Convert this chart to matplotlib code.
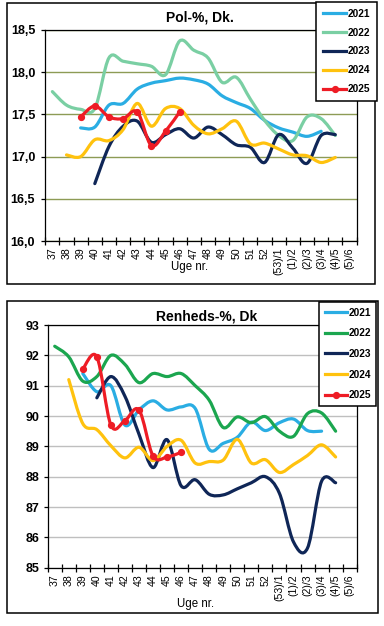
import numpy as np
import matplotlib
matplotlib.use("Agg")
import matplotlib.pyplot as plt
from matplotlib.path import Path
from matplotlib.patches import PathPatch, Rectangle
from matplotlib.lines import Line2D
from matplotlib.ticker import FuncFormatter

plt.rcParams['font.family'] = ['Liberation Sans', 'DejaVu Sans']

nan = np.nan

# ──────────────────────────────────────────────
# Data
# ──────────────────────────────────────────────
uger = ["37", "38", "39", "40", "41", "42", "43", "44", "45", "46", "47",
        "48", "49", "50", "51", "52", "(53)/1", "(1)/2", "(2)/3", "(3)/4",
        "(4)/5", "(5)/6"]
aar = ["2021", "2022", "2023", "2024", "2025"]

pol_2021 = [nan, nan, 17.34, 17.35, 17.61, 17.63, 17.80, 17.87, 17.90, 17.93, 17.91,
            17.86, 17.72, 17.64, 17.57, 17.43, 17.34, 17.29, 17.24, 17.30, nan, nan]
pol_2022 = [17.77, 17.61, 17.56, 17.57, 18.17, 18.13, 18.10, 18.07, 17.97, 18.37, 18.26,
            18.17, 17.88, 17.94, 17.68, 17.43, 17.25, 17.19, 17.47, 17.45, 17.25, nan]
pol_2023 = [nan, nan, nan, 16.68, 17.12, 17.36, 17.42, 17.17, 17.26, 17.33, 17.22,
            17.35, 17.26, 17.14, 17.11, 16.93, 17.26, 17.10, 16.92, 17.25, 17.26, nan]
pol_2024 = [nan, 17.02, 17.00, 17.20, 17.19, 17.32, 17.63, 17.36, 17.57, 17.57, 17.37,
            17.27, 17.33, 17.42, 17.15, 17.16, 17.09, 17.02, 17.01, 16.93, 16.99, nan]
pol_2025 = [nan, nan, 17.47, 17.60, 17.47, 17.45, 17.53, 17.13, 17.30, 17.53, nan,
            nan, nan, nan, nan, nan, nan, nan, nan, nan, nan, nan]

ren_2021 = [nan, nan, 91.40, 90.80, 91.00, 89.70, 90.20, 90.50, 90.20, 90.30, 90.25,
            88.90, 89.10, 89.30, 89.80, 89.52, 89.78, 89.90, 89.52, 89.50, nan, nan]
ren_2022 = [92.30, 91.95, 91.15, 91.30, 92.00, 91.70, 91.10, 91.40, 91.30, 91.40, 91.00,
            90.52, 89.62, 89.97, 89.78, 89.98, 89.50, 89.33, 90.08, 90.10, 89.50, nan]
ren_2023 = [nan, nan, nan, 90.60, 91.30, 90.65, 89.40, 88.30, 89.22, 87.70, 87.90,
            87.42, 87.40, 87.60, 87.80, 88.00, 87.45, 85.85, 85.65, 87.85, 87.80, nan]
ren_2024 = [nan, 91.20, 89.75, 89.55, 89.02, 88.62, 88.97, 88.53, 89.00, 89.20, 88.45,
            88.50, 88.55, 89.23, 88.45, 88.56, 88.14, 88.40, 88.70, 89.05, 88.65, nan]
ren_2025 = [nan, nan, 91.55, 91.95, 89.70, 89.85, 90.20, 88.68, 88.65, 88.80, nan,
            nan, nan, nan, nan, nan, nan, nan, nan, nan, nan, nan]

farver_pol = ["#2AADE3", "#7ACFA3", "#0F2657", "#FFC20E", "#EE1C25"]
farver_ren = ["#2AADE3", "#1BA64F", "#0F2657", "#FFC20E", "#EE1C25"]


# ──────────────────────────────────────────────
# Hjælpefunktioner
# ──────────────────────────────────────────────
def glat_kurve(x, y):
    """Excel-agtig udglattet linje (Bezier gennem punkterne)."""
    p = np.column_stack([x, y])
    n = len(p)
    verts = [p[0]]
    codes = [Path.MOVETO]
    for i in range(n - 1):
        p0 = p[max(i - 1, 0)]
        p1 = p[i]
        p2 = p[i + 1]
        p3 = p[min(i + 2, n - 1)]
        verts += [p1 + (p2 - p0) / 6, p2 - (p3 - p1) / 6, p2]
        codes += [Path.CURVE4] * 3
    return Path(verts, codes)


def tegn_diagram(ax, serier, farver, ylim, ystep, grid_farve, titel_pos, titel,
                 label_pos, ypad, leg_anchor, leg_kw):
    x_all = np.arange(len(uger))
    for k, (vals, c) in enumerate(zip(serier, farver)):
        v = np.array(vals, dtype=float)
        ok = ~np.isnan(v)
        xs, ys = x_all[ok], v[ok]
        ax.add_patch(PathPatch(glat_kurve(xs, ys), fill=False, edgecolor=c,
                               lw=2.3, capstyle="round", joinstyle="round",
                               zorder=3 + k))
        if k == len(serier) - 1:
            ax.plot(xs, ys, "o", color=c, ms=4.2, zorder=10)

    ax.set_xlim(-0.5, len(uger) - 0.5)
    ax.set_ylim(*ylim)
    ax.set_yticks(np.arange(ylim[0], ylim[1] + ystep / 2, ystep))
    ax.yaxis.set_major_formatter(FuncFormatter(
        lambda v, p: (f"{v:.1f}".replace(".", ",") if ystep < 1 else f"{v:.0f}")))
    ax.grid(True, axis="y", color=grid_farve, lw=1.0, zorder=0)
    ax.set_axisbelow(True)

    ax.set_xticks(np.arange(-0.5, len(uger)), labels=[""] * (len(uger) + 1))
    ax.set_xticks(x_all, labels=uger, minor=True)
    ax.tick_params(axis="x", which="major", direction="inout", length=5.5, width=0.9)
    ax.tick_params(axis="x", which="minor", length=0, pad=4.5, labelsize=7.6,
                   labelrotation=90)
    ax.tick_params(axis="y", direction="out", length=3, width=0.9, pad=ypad,
                   labelsize=9)
    for t in ax.get_yticklabels():
        t.set_fontweight("bold")
    for s in ax.spines.values():
        s.set_linewidth(0.9)
        s.set_color("black")

    ax.set_xlabel("Uge nr.", fontsize=8.3)
    ax.xaxis.set_label_coords(*label_pos)

    fig.text(titel_pos[0], titel_pos[1], titel, ha="center", va="center",
             fontsize=10, fontweight="bold")

    handles = [Line2D([], [], color=c, lw=2.3) for c in farver[:-1]]
    handles.append(Line2D([], [], color=farver[-1], lw=2.3, marker="o", ms=4.2))
    leg = fig.legend(handles, aar, loc="upper left", bbox_to_anchor=leg_anchor,
                     bbox_transform=fig.transFigure, borderaxespad=0,
                     fancybox=False, framealpha=1, edgecolor="black",
                     prop={"weight": "bold", "size": 7.3}, handletextpad=0.1,
                     **leg_kw)
    leg.get_frame().set_linewidth(1.1)
    return leg


# ──────────────────────────────────────────────
# Figur
# ──────────────────────────────────────────────
W, H = 384, 626
fig = plt.figure(figsize=(W / 100, H / 100), dpi=100)

# ydre rammer
for (x0, y0, x1, y1) in [(7, 3, 375, 284), (7, 301, 378, 613)]:
    fig.patches.append(Rectangle((x0 / W, 1 - y1 / H), (x1 - x0) / W, (y1 - y0) / H,
                                 transform=fig.transFigure, fill=False,
                                 edgecolor="black", lw=1.1))

ax1 = fig.add_axes([45.3 / W, 1 - 241 / H, 311.2 / W, 211 / H])
tegn_diagram(ax1, [pol_2021, pol_2022, pol_2023, pol_2024, pol_2025], farver_pol,
             (16.0, 18.5), 0.5, "#8D9B55", (200 / W, 1 - 18 / H), "Pol-%, Dk.",
             (0.465, -0.097), 4.3, (316 / W, 1 - 2 / H),
             dict(borderpad=0.65, labelspacing=0.88, handlelength=2.35))

ax2 = fig.add_axes([47.7 / W, 1 - 567.7 / H, 309 / W, 242.7 / H])
tegn_diagram(ax2, [ren_2021, ren_2022, ren_2023, ren_2024, ren_2025], farver_ren,
             (85, 93), 1, "#BFBFBF", (207 / W, 1 - 316.5 / H), "Renheds-%, Dk",
             (0.48, -0.124), 3.2, (319 / W, 1 - 302 / H),
             dict(borderpad=0.55, labelspacing=1.05, handlelength=2.25))

fig.savefig("out.png", dpi=100)
